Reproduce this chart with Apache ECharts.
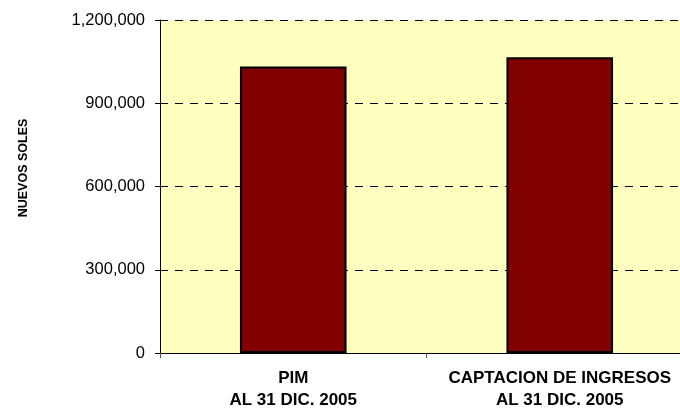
<!DOCTYPE html>
<html>
<head>
<meta charset="utf-8">
<script src="https://cdn.jsdelivr.net/npm/echarts@6/dist/echarts.min.js"></script>
<style>
  html, body { margin: 0; padding: 0; background: #ffffff; }
  #chart { width: 680px; height: 413px; }
</style>
</head>
<body>
<div id="chart"></div>
<script>
// Categories and amounts (nuevos soles)
const categories = ['PIM\nAL 31 DIC. 2005', 'CAPTACION DE INGRESOS\nAL 31 DIC. 2005'];
const amounts = [1032000, 1066000];
const yTicks = [0, 300000, 600000, 900000, 1200000];
const yTitle = 'NUEVOS SOLES';

const chart = echarts.init(document.getElementById('chart'), null, { renderer: 'canvas' });

const fmt = v => v.toLocaleString('en-US');
const FONT = 'Liberation Sans, Arial, sans-serif';

chart.setOption({
  animation: false,
  backgroundColor: '#ffffff',
  // plot area runs past the right edge of the canvas
  grid: {
    left: 160, top: 20, width: 533, bottom: 60,
    outerBoundsMode: 'none', containLabel: false,
    show: true, backgroundColor: '#ffffc0', borderWidth: 0
  },
  graphic: [{
    type: 'text',
    x: 24, y: 168,
    rotation: Math.PI / 2,
    style: {
      text: yTitle, fill: '#000', font: 'bold 12.5px ' + FONT,
      align: 'center', verticalAlign: 'middle'
    }
  }],
  xAxis: {
    type: 'category',
    data: categories,
    boundaryGap: true,
    axisLine: { show: true, lineStyle: { color: '#000', width: 1 } },
    axisTick: { show: true, length: 5, lineStyle: { color: '#555' } },
    axisLabel: {
      color: '#000', fontFamily: FONT, fontWeight: 'bold',
      fontSize: 17, lineHeight: 22, margin: 14, interval: 0, hideOverlap: false
    }
  },
  yAxis: {
    type: 'value',
    min: yTicks[0], max: yTicks[yTicks.length - 1], interval: 300000,
    axisLine: { show: true, lineStyle: { color: '#000', width: 1 } },
    axisTick: { show: true, length: 5, lineStyle: { color: '#000' } },
    axisLabel: {
      color: '#000', fontFamily: FONT, fontSize: 16.5, margin: 15,
      formatter: v => fmt(v)
    },
    splitLine: { show: true, lineStyle: { color: '#000', type: [8, 7], width: 1 } }
  },
  series: [{
    type: 'bar',
    data: amounts,
    barWidth: '40%',
    itemStyle: { color: '#800000', borderColor: '#000', borderWidth: 2 }
  }]
});
</script>
</body>
</html>
